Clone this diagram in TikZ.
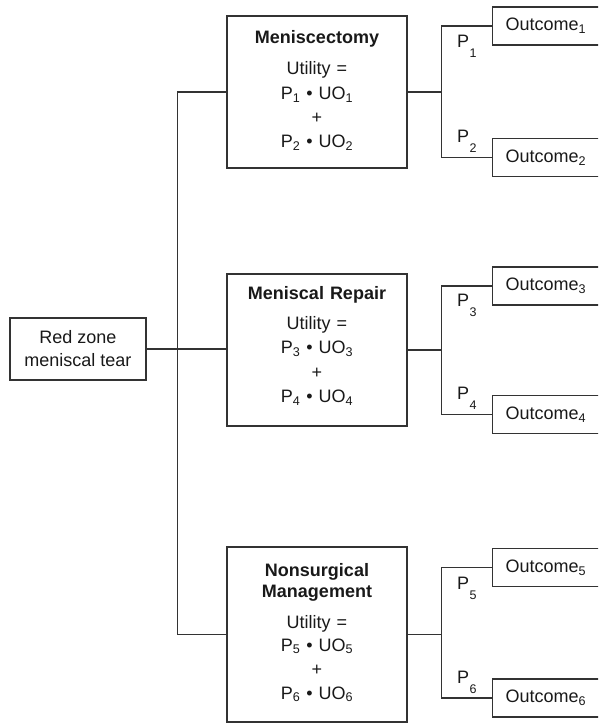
\documentclass[tikz,border=0pt]{standalone}
\usepackage{fontspec}
\setmainfont{Liberation Sans}
\usepackage{tikz}

\newcommand{\pUO}[1]{P\textsubscript{#1} \textbullet{} UO\textsubscript{#1}}
\newcommand{\lift}[1]{\rule[-#1]{0pt}{#1}}

\tikzset{
  wire/.style={line width=1.3pt, black!80},
  choice/.style={draw=black!80, line width=1.3pt, align=center, text width=170pt, inner xsep=5pt, minimum height=152pt, text=black!90, font=\fontsize{18}{24.5}\selectfont},
  rootbox/.style={draw=black!80, line width=1.3pt, align=center, minimum width=136pt, minimum height=62pt, inner sep=0pt, text=black!90, font=\fontsize{18}{23}\selectfont},
  outbox/.style={draw=black!80, line width=1.3pt, anchor=west, align=left, text width=110pt, inner xsep=13pt, minimum height=38pt, text=black!90, font=\fontsize{18}{20}\selectfont},
  plab/.style={text=black!90, inner sep=0pt, font=\fontsize{18}{20}\selectfont},
  psub/.style={text=black!90, inner sep=0pt, font=\fontsize{12.5}{14}\selectfont}
}

\begin{document}
\begin{tikzpicture}[x=1pt,y=-1pt]
\useasboundingbox (0,0) rectangle (598,723);
\clip (0,0) rectangle (598,723);

\node[rootbox] (root) at (78,349) {Red zone\\meniscal tear};

\node[choice] (m1) at (317,92) {\textbf{Meniscectomy}\\[7pt]Utility =\\[0.5pt]\pUO{1}\\[-1pt]+\\\pUO{2}\lift{6pt}};
\node[choice] (m2) at (317,350) {\textbf{Meniscal Repair}\\[5.5pt]Utility =\\\pUO{3}\\+\\\pUO{4}\lift{11pt}};
\node[choice, minimum height=175pt] (m3) at (317,634.5) {\textbf{Nonsurgical}\\[-3.5pt]\textbf{Management}\\[6.5pt]Utility =\\[-1.5pt]\pUO{5}\\+\\[-1pt]\pUO{6}\lift{7pt}};

\node[outbox] (o1) at (492,26) {Outcome\textsubscript{1}};
\node[outbox] (o2) at (492,157.5) {Outcome\textsubscript{2}};
\node[outbox] (o3) at (492,286) {Outcome\textsubscript{3}};
\node[outbox] (o4) at (492,414.5) {Outcome\textsubscript{4}};
\node[outbox] (o5) at (492,567.5) {Outcome\textsubscript{5}};
\node[outbox] (o6) at (492,698) {Outcome\textsubscript{6}};

\draw[wire] (m1.west) -- ++(-49,0) |- (m3.west);
\draw[wire] (root.east) -- (root.east -| m2.west);

\draw[wire] (m1.east) -- ++(34,0) coordinate (f1);
\draw[wire] (m2.east) -- ++(34,0) coordinate (f2);
\draw[wire] (m3.east) -- ++(34,0) coordinate (f3);
\draw[wire] (o1.west) -| (f1) |- (o2.west);
\draw[wire] (o3.west) -| (f2) |- (o4.west);
\draw[wire] (o5.west) -| (f3) |- (o6.west);

\foreach \k/\y in {1/41, 2/136, 3/300, 4/393, 5/583, 6/677} {
  \node[plab] (p\k) at (463,\y) {P};
  \node[psub] (ps\k) at (473,\y+12) {\k};
}
\end{tikzpicture}
\end{document}
